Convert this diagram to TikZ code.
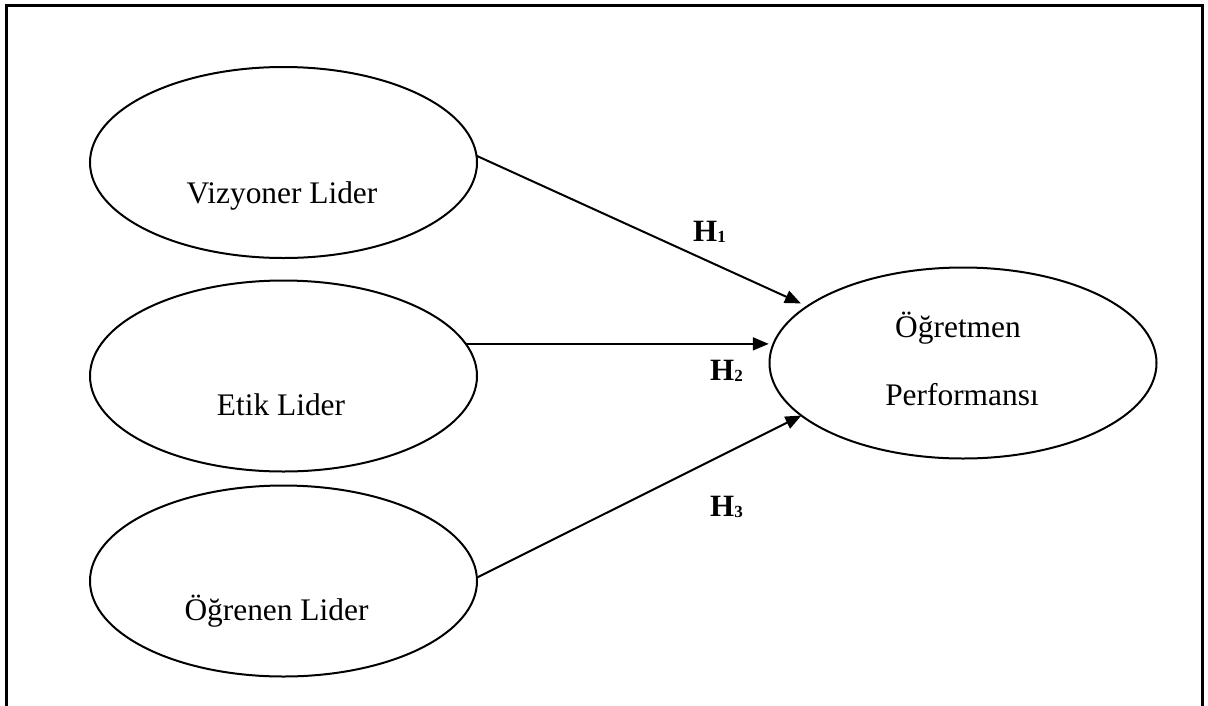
\documentclass[tikz,border=0pt]{standalone}
\usepackage{fontspec}
\setmainfont{Liberation Serif}
\usetikzlibrary{arrows.meta,shapes.geometric}
\begin{document}
\begin{tikzpicture}[x=1pt,y=-1pt,
  oval/.style={draw,ellipse,line width=2pt,minimum width=387pt,minimum height=191pt,inner sep=0pt,outer sep=0pt},
  lbl/.style={font=\fontsize{31.4}{36}\selectfont,anchor=base,inner sep=0pt},
  hl/.style={font=\fontsize{31}{36}\selectfont\bfseries,anchor=base west,inner sep=0pt},
  arr/.style={line width=2pt,-{Triangle[length=16pt,width=13pt]}}]
\useasboundingbox (0,0) rectangle (1208,705);
\clip (0,0) rectangle (1208,705);
\draw[line width=3pt] (6,730) -- (6,5) -- (1202,5) -- (1202,730);

\node[oval] (v) at (283.5,162.5) {};
\node[oval] (e) at (283.5,376) {};
\node[oval] (o) at (283.5,581) {};
\node[oval] (p) at (963,363) {};

\node[lbl] (tv) at (282,203.3) {Vizyoner Lider};
\node[lbl] (te) at (281,415.7) {Etik Lider};
\node[lbl] (to) at (276.5,620) {Öğrenen Lider};
\node[lbl] (tp1) at (958,337.3) {Öğretmen};
\node[lbl] (tp2) at (962,405.7) {Performansı};

\draw[arr,shorten >=7pt] (v.2) -- (p.160);
\draw[arr,shorten >=5pt] (e.10.6) -- (e.10.6 -| p.174);
\draw[arr] (o.1) -- (p.198);

\node[hl] (h1) at (693,241.7) {H\raisebox{-1pt}{\fontsize{17}{17}\selectfont 1}};
\node[hl] (h2) at (710,380) {H\raisebox{-1pt}{\fontsize{17}{17}\selectfont 2}};
\node[hl] (h3) at (710,516) {H\raisebox{-1pt}{\fontsize{17}{17}\selectfont 3}};
\end{tikzpicture}
\end{document}
